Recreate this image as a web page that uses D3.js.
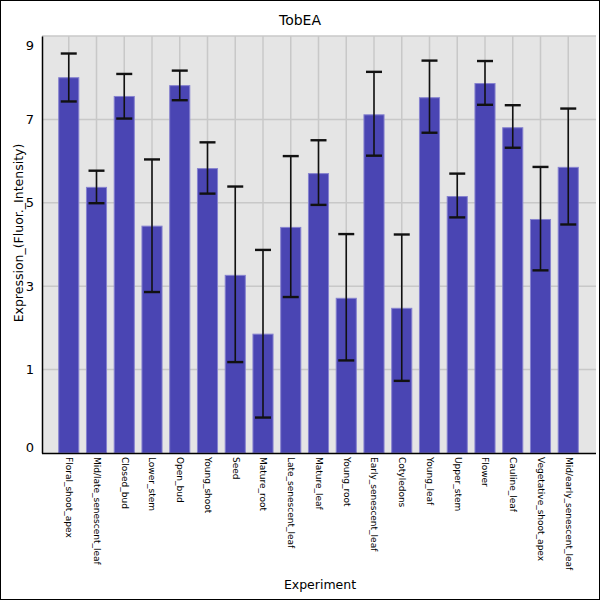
<!DOCTYPE html>
<html>
<head>
<meta charset="utf-8">
<script src="https://cdn.jsdelivr.net/npm/d3@7"></script>
<style>
  body { margin: 0; background: #fff; }
  svg { display: block; font-family: "DejaVu Sans", sans-serif; }
</style>
</head>
<body>
<div id="chart"></div>
<script>
// Tissues on the x axis
const tissues = [
    "Floral_shoot_apex", "Mid/late_senescent_leaf", "Closed_bud", "Lower_stem",
    "Open_bud", "Young_shoot", "Seed", "Mature_root", "Late_senescent_leaf",
    "Mature_leaf", "Young_root", "Early_senescent_leaf", "Cotyledons", "Young_leaf",
    "Upper_stem", "Flower", "Cauline_leaf", "Vegetative_shoot_apex", "Mid/early_senescent_leaf"
];

// Mean expression and error bar ends
const expression = [8.00, 5.37, 7.55, 4.44, 7.81, 5.82, 3.26, 1.85, 4.41, 5.70,
    2.71, 7.11, 2.47, 7.52, 5.15, 7.86, 6.80, 4.60, 5.85];
const errHigh = [8.58, 5.77, 8.09, 6.04, 8.17, 6.45, 5.39, 3.87, 6.12, 6.50,
    4.25, 8.14, 4.24, 8.41, 5.70, 8.40, 7.34, 5.86, 7.26];
const errLow = [7.43, 4.99, 7.02, 2.86, 7.46, 5.22, 1.18, -0.15, 2.74, 4.95,
    1.22, 6.13, 0.73, 6.68, 4.65, 7.35, 6.32, 3.38, 4.48];

// y axis ticks and the labels the chart prints for them
const yTicks = [-1, 1, 3, 5, 7, 9];
const yTickLabels = ["0", "1", "3", "5", "7", "9"];

const width = 600, height = 600;
const plot = { left: 42, right: 596, top: 36, bottom: 453 };

const svg = d3.select("#chart").append("svg")
    .attr("width", width)
    .attr("height", height);

// frame around the whole picture
svg.append("rect")
    .attr("x", 0.5).attr("y", 0.5)
    .attr("width", width - 1).attr("height", height - 1)
    .attr("fill", "#fff").attr("stroke", "#000");

const x = d3.scaleBand()
    .domain(tissues)
    .range([plot.left - 1, plot.right])
    .paddingInner(0.24)
    .paddingOuter(0.62);

const y = d3.scaleLinear()
    .domain([-1, 9])
    .range([plot.bottom, plot.top]);

// plot background
svg.append("rect")
    .attr("x", plot.left).attr("y", plot.top)
    .attr("width", plot.right - plot.left)
    .attr("height", plot.bottom - plot.top)
    .attr("fill", "#e5e5e5");

// grid
const grid = svg.append("g")
    .attr("stroke", "#c8c8c8")
    .attr("stroke-width", 1.5);

grid.selectAll("line.h")
    .data(yTicks.filter(d => d > -1))
    .join("line")
    .attr("class", "h")
    .attr("x1", plot.left).attr("x2", plot.right)
    .attr("y1", d => y(d)).attr("y2", d => y(d));

grid.selectAll("line.v")
    .data(tissues)
    .join("line")
    .attr("class", "v")
    .attr("x1", d => x(d) + x.bandwidth() / 2)
    .attr("x2", d => x(d) + x.bandwidth() / 2)
    .attr("y1", plot.top).attr("y2", plot.bottom);

// bars
svg.append("g")
    .selectAll("rect")
    .data(tissues)
    .join("rect")
    .attr("x", d => x(d) + 0.5)
    .attr("width", x.bandwidth() - 1)
    .attr("y", (d, i) => y(expression[i]))
    .attr("height", (d, i) => y(-1) - y(expression[i]))
    .attr("fill", "#4a45b3")
    .attr("stroke", "#8682cf")
    .attr("stroke-width", 1);

// error bars
const err = svg.append("g").attr("stroke", "#111");
tissues.forEach((t, i) => {
    const cx = x(t) + x.bandwidth() / 2;
    err.append("line")
        .attr("x1", cx).attr("x2", cx)
        .attr("y1", y(errHigh[i])).attr("y2", y(errLow[i]))
        .attr("stroke-width", 1.6);
    [errHigh[i], errLow[i]].forEach(v => {
        err.append("line")
            .attr("x1", cx - 8).attr("x2", cx + 8)
            .attr("y1", y(v)).attr("y2", y(v))
            .attr("stroke-width", 2.4);
    });
});

// y axis
const yAxis = svg.append("g")
    .attr("transform", `translate(${plot.left},0)`)
    .call(d3.axisLeft(y)
        .tickValues(yTicks)
        .tickFormat((d, i) => yTickLabels[i])
        .tickSize(0)
        .tickPadding(8));
yAxis.select(".domain").attr("stroke", "#000").attr("stroke-width", 1.5);
yAxis.selectAll("text")
    .attr("font-size", 13)
    .attr("fill", "#000")
    .attr("font-family", "DejaVu Sans, sans-serif")
    .attr("dy", d => d === 9 ? "1.0em" : d === -1 ? "-0.15em" : "0.32em");

// x axis
const xAxis = svg.append("g")
    .attr("transform", `translate(0,${plot.bottom})`)
    .call(d3.axisBottom(x).tickSize(0).tickSizeOuter(0));
xAxis.select(".domain")
    .attr("d", `M${plot.left},0.5H${plot.right}`)
    .attr("stroke", "#000").attr("stroke-width", 1.5);
xAxis.selectAll("text")
    .attr("font-size", 9)
    .attr("fill", "#000")
    .attr("font-family", "DejaVu Sans, sans-serif")
    .attr("text-anchor", "start")
    .attr("transform", "rotate(90)")
    .attr("x", 4)
    .attr("y", 0)
    .attr("dy", "0.3em");

// title and axis labels
svg.append("text")
    .attr("x", 300).attr("y", 25)
    .attr("text-anchor", "middle")
    .attr("font-size", 14)
    .text("TobEA");

svg.append("text")
    .attr("transform", "translate(23,233) rotate(-90)")
    .attr("text-anchor", "middle")
    .attr("font-size", 12.5)
    .text("Expression_(Fluor._Intensity)");

svg.append("text")
    .attr("x", 320).attr("y", 589)
    .attr("text-anchor", "middle")
    .attr("font-size", 12.5)
    .text("Experiment");
</script>
</body>
</html>
